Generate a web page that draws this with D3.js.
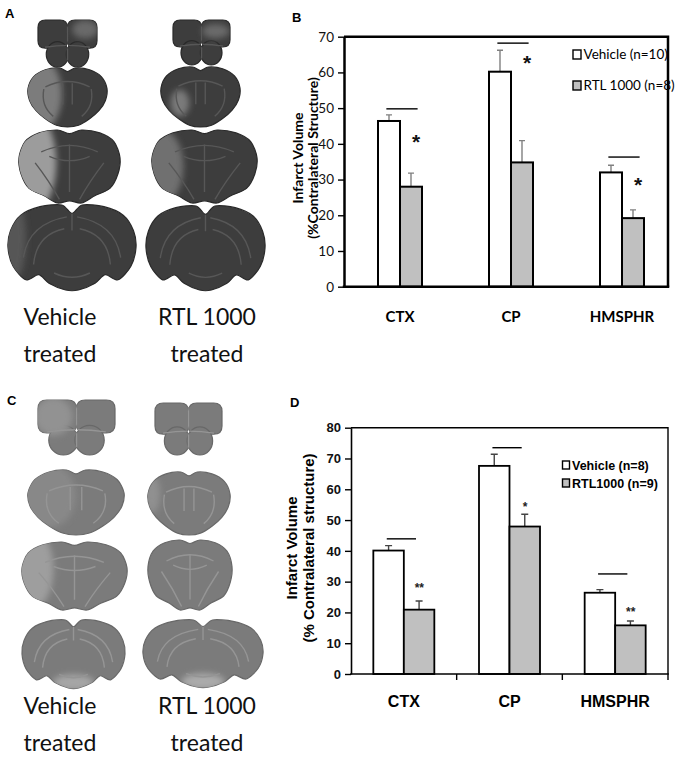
<!DOCTYPE html>
<html>
<head>
<meta charset="utf-8">
<script src="https://cdn.jsdelivr.net/npm/d3@7"></script>
<style>
  body { margin: 0; background: #fff; }
  svg { display: block; }
</style>
</head>
<body>
<script>
// ---- data ----
const categories = ['CTX', 'CP', 'HMSPHR'];

// panel B
const bTicks = [0, 10, 20, 30, 40, 50, 60, 70];
const bVehicle = [46.4, 60.2, 32.0];
const bVehicleErr = [1.7, 6.0, 2.0];
const bRtl = [28.0, 34.8, 19.2];
const bRtlErr = [3.8, 6.1, 2.3];
const bBracket = [49.8, 68.2, 36.3];
const bStars = ['*', '*', '*'];
const bStarAt = [41.9, 63.8, 29.7];
const bLegend = ['Vehicle (n=10)', 'RTL 1000 (n=8)'];

// panel D
const dTicks = [0, 10, 20, 30, 40, 50, 60, 70, 80];
const dVehicle = [40.1, 67.6, 26.4];
const dVehicleErr = [1.6, 3.8, 1.0];
const dRtl = [20.9, 47.9, 15.8];
const dRtlErr = [2.8, 4.0, 1.4];
const dBracket = [43.9, 73.5, 32.5];
const dStars = ['**', '*', '**'];
const dStarAt = [28.8, 55.2, 21.0];
const dLegend = ['Vehicle (n=8)', 'RTL1000 (n=9)'];

// labels under the brain pictures
const colLabels = [['Vehicle', 'treated'], ['RTL 1000', 'treated']];

let svg = d3.select('body').append('svg')
  .attr('width', 680).attr('height', 760)
  .style('background', '#fff');

let defs = svg.append('defs');
defs.append('filter').attr('id', 'soft')
  .attr('x', '-50%').attr('y', '-50%').attr('width', '200%').attr('height', '200%')
  .append('feGaussianBlur').attr('stdDeviation', 3);

// ---------------- brain sections (pictures, drawn as shapes) ----------------
let closed = d3.line().curve(d3.curveCardinalClosed.tension(0.15));

let outlines = {
  mid: [[0.5, 0.06], [0.6, 0.0], [0.78, 0.03], [0.93, 0.15], [1.0, 0.35], [0.98, 0.55], [0.9, 0.72], [0.78, 0.86], [0.64, 0.97], [0.5, 1.0], [0.36, 0.97], [0.22, 0.86], [0.1, 0.72], [0.02, 0.55], [0, 0.35], [0.07, 0.15], [0.22, 0.03], [0.4, 0.0]],
  mid2: [[0.5, 0.05], [0.62, 0.0], [0.8, 0.04], [0.94, 0.16], [1.0, 0.38], [0.98, 0.6], [0.9, 0.8], [0.75, 0.9], [0.62, 1.0], [0.5, 0.97], [0.38, 1.0], [0.25, 0.9], [0.1, 0.8], [0.02, 0.6], [0, 0.38], [0.06, 0.16], [0.2, 0.04], [0.38, 0.0]],
  back: [[0.5, 0.1], [0.58, 0.0], [0.75, 0.02], [0.9, 0.12], [0.98, 0.3], [1.0, 0.5], [0.96, 0.72], [0.86, 0.88], [0.76, 0.82], [0.68, 0.92], [0.55, 1.0], [0.45, 1.0], [0.32, 0.92], [0.24, 0.82], [0.14, 0.88], [0.04, 0.72], [0, 0.5], [0.02, 0.3], [0.1, 0.12], [0.25, 0.02], [0.42, 0.0]]
};

let innerLines = {
  front: ['M0.5,0.02L0.5,0.98', 'M0.12,0.58Q0.5,0.5 0.88,0.58'],
  mid: ['M0.22,0.32Q0.5,0.14 0.78,0.32', 'M0.44,0.26L0.44,0.62', 'M0.56,0.26L0.56,0.62', 'M0.2,0.36Q0.16,0.65 0.32,0.82', 'M0.8,0.36Q0.84,0.65 0.68,0.82'],
  mid2: ['M0.22,0.3Q0.5,0.12 0.78,0.3', 'M0.3,0.36Q0.5,0.48 0.7,0.36', 'M0.5,0.2L0.5,0.85', 'M0.16,0.45Q0.3,0.7 0.4,0.95', 'M0.84,0.45Q0.7,0.7 0.6,0.95'],
  back: ['M0.12,0.62Q0.16,0.22 0.46,0.14', 'M0.88,0.62Q0.84,0.22 0.54,0.14', 'M0.2,0.7Q0.22,0.35 0.44,0.28', 'M0.8,0.7Q0.78,0.35 0.56,0.28', 'M0.5,0.1L0.5,0.3', 'M0.36,0.8Q0.5,0.9 0.64,0.8']
};

function ellipsePath(cx, cy, rx, ry) {
  return `M${cx - rx},${cy}a${rx},${ry} 0 1,0 ${2 * rx},0a${rx},${ry} 0 1,0 ${-2 * rx},0`;
}

function roundRect(x0, y0, x1, y1, r) {
  return `M${x0 + r},${y0}H${x1 - r}Q${x1},${y0} ${x1},${y0 + r}V${y1 - r}Q${x1},${y1} ${x1 - r},${y1}H${x0 + r}Q${x0},${y1} ${x0},${y1 - r}V${y0 + r}Q${x0},${y0} ${x0 + r},${y0}Z`;
}

let clipCount = 0;

function drawSlice(slice, look) {
  let [bx, by, bw, bh, kind, spots] = slice;
  let sx = d3.scaleLinear().range([bx, bx + bw]);
  let sy = d3.scaleLinear().range([by, by + bh]);
  let shapes;
  if (kind == 'front') {
    let r = Math.min(bw, bh) * 0.16;
    shapes = [
      roundRect(sx(0), sy(0), sx(0.5), sy(0.6), r),
      roundRect(sx(0.5), sy(0), sx(1), sy(0.6), r),
      ellipsePath(sx(0.33), sy(0.73), bw * 0.19, bh * 0.27),
      ellipsePath(sx(0.67), sy(0.73), bw * 0.19, bh * 0.27)
    ];
  } else {
    shapes = [closed(outlines[kind].map(p => [sx(p[0]), sy(p[1])]))];
  }
  let id = 'slice' + (clipCount++);
  let clip = defs.append('clipPath').attr('id', id);
  shapes.forEach(d => clip.append('path').attr('d', d));

  let g = svg.append('g');
  shapes.forEach(d => g.append('path').attr('d', d)
    .attr('fill', look.fill).attr('stroke', look.edge).attr('stroke-width', 1.2));

  let inner = g.append('g').attr('clip-path', `url(#${id})`);
  spots.forEach(s => inner.append('ellipse')
    .attr('cx', sx(s[0])).attr('cy', sy(s[1]))
    .attr('rx', bw * s[2]).attr('ry', bh * s[3])
    .attr('fill', s[4]).attr('filter', 'url(#soft)'));

  let t = `translate(${bx},${by}) scale(${bw},${bh})`;
  innerLines[kind].forEach(d => inner.append('path').attr('d', d)
    .attr('transform', t).attr('fill', 'none')
    .attr('stroke', look.line).attr('stroke-width', 1.4)
    .attr('vector-effect', 'non-scaling-stroke'));
}

let aLook = {fill: '#3d3d3d', edge: '#2a2a2a', line: '#575757'};
let cLook = {fill: '#7b7b7b', edge: '#686868', line: '#959595'};

let aSlices = [
  [38, 20, 59, 47, 'front', [[0.8, 0.2, 0.22, 0.2, '#696969']]],
  [28, 68, 79, 59, 'mid', [[0.15, 0.45, 0.28, 0.62, '#7c7c7c']]],
  [19, 130, 101, 73, 'mid2', [[0.1, 0.45, 0.27, 0.72, '#9c9c9c']]],
  [8, 205, 128, 85, 'back', [[0.04, 0.4, 0.1, 0.5, '#575757']]],
  [173, 20, 57, 45, 'front', [[0.75, 0.25, 0.24, 0.16, '#6a6a6a']]],
  [161, 67, 79, 60, 'mid', [[0.24, 0.6, 0.12, 0.22, '#7a7a7a']]],
  [152, 130, 105, 73, 'mid2', [[0.1, 0.5, 0.2, 0.5, '#707070']]],
  [146, 206, 119, 84, 'back', []]
];

let cSlices = [
  [38, 400, 77, 55, 'front', [[0.2, 0.3, 0.25, 0.35, '#929292']]],
  [28, 470, 96, 65, 'mid', [[0.2, 0.4, 0.3, 0.5, '#888888']]],
  [22, 542, 105, 68, 'mid2', [[0.08, 0.4, 0.22, 0.6, '#9e9e9e']]],
  [22, 620, 103, 68, 'back', [[0.5, 0.92, 0.2, 0.12, '#a6a6a6']]],
  [155, 403, 67, 52, 'front', []],
  [148, 472, 82, 63, 'mid', [[0.05, 0.35, 0.1, 0.3, '#909090']]],
  [148, 540, 84, 70, 'mid2', []],
  [143, 620, 120, 67, 'back', [[0.5, 0.92, 0.18, 0.12, '#ababab']]]
];

aSlices.forEach(s => drawSlice(s, aLook));
cSlices.forEach(s => drawSlice(s, cLook));

function columnLabels(baseline) {
  colLabels.forEach((lines, i) => {
    lines.forEach((txt, j) => {
      svg.append('text')
        .attr('x', [60, 207][i]).attr('y', baseline + j * 37)
        .attr('text-anchor', 'middle')
        .style('font-family', 'Lato, sans-serif').style('font-size', '23px')
        .attr('fill', '#111')
        .text(txt);
    });
  });
}
columnLabels(325);
columnLabels(714);

// panel letters
[['A', 5, 18], ['B', 292, 22], ['C', 7, 405], ['D', 290, 407]].forEach(l => {
  svg.append('text').attr('x', l[1]).attr('y', l[2])
    .style('font-family', '"Liberation Sans", Arial, sans-serif')
    .style('font-weight', 'bold').style('font-size', '13px')
    .text(l[0]);
});

// ---------------- bar charts ----------------
function barChart(p) {
  let y = d3.scaleLinear().domain([0, d3.max(p.ticks)]).range([p.bottom, p.top]);
  let x = d3.scaleBand().domain(categories).range(p.band);
  let g = svg.append('g');

  let rows = categories.map((c, i) => [
    {cat: c, s: 0, v: p.vehicle[i], e: p.vehicleErr[i]},
    {cat: c, s: 1, v: p.rtl[i], e: p.rtlErr[i]}
  ]).flat();
  let mid = c => x(c) + x.bandwidth() / 2;
  let barX = d => mid(d.cat) + (d.s - 1) * p.barW;

  // upper error bars
  g.selectAll('.err').data(rows).join('path')
    .attr('d', d => {
      let cx = barX(d) + p.barW / 2, y1 = y(d.v + d.e);
      return `M${cx},${y(d.v)}V${y1}M${cx - p.cap},${y1}H${cx + p.cap}`;
    })
    .attr('fill', 'none').attr('stroke', p.errColor).attr('stroke-width', 1.4);

  g.selectAll('.bar').data(rows).join('rect')
    .attr('x', barX).attr('width', p.barW)
    .attr('y', d => y(d.v)).attr('height', d => y(0) - y(d.v))
    .attr('fill', d => d.s ? '#c0c0c0' : '#fff')
    .attr('stroke', '#000').attr('stroke-width', p.barStroke);

  // frame: top and right
  g.append('path')
    .attr('d', `M${p.left},${y(d3.max(p.ticks))}H${p.right}V${y(0)}`)
    .attr('fill', 'none').attr('stroke', '#000').attr('stroke-width', p.frameW);

  // y axis
  let ax = g.append('g').attr('transform', `translate(${p.left},0)`)
    .call(d3.axisLeft(y).tickValues(p.ticks).tickSize(6).tickSizeOuter(0).tickPadding(p.pad));
  ax.select('.domain').attr('stroke-width', p.axisW);
  ax.selectAll('.tick line').attr('stroke-width', 1.4);
  ax.selectAll('.tick text')
    .style('font-family', p.font).style('font-size', p.tickSize + 'px')
    .style('font-weight', p.tickWeight).attr('fill', '#111');

  // x axis line
  g.append('line')
    .attr('x1', p.left).attr('x2', p.right).attr('y1', y(0)).attr('y2', y(0))
    .attr('stroke', '#000').attr('stroke-width', p.axisW).attr('stroke-linecap', 'square');
  if (p.xTicks) {
    g.selectAll('.xt').data(categories.map(c => x(c)).slice(1).concat([p.right]))
      .join('line')
      .attr('x1', d => d).attr('x2', d => d)
      .attr('y1', y(0)).attr('y2', y(0) + 6)
      .attr('stroke', '#000').attr('stroke-width', 1.4);
  }

  g.selectAll('.cat').data(categories).join('text')
    .attr('x', mid).attr('y', p.catY)
    .attr('text-anchor', 'middle')
    .style('font-family', p.font).style('font-weight', 'bold')
    .style('font-size', p.catSize + 'px')
    .text(d => d);

  // significance brackets and stars
  g.selectAll('.brk').data(categories).join('line')
    .attr('x1', c => mid(c) + p.brk[0] * p.barW)
    .attr('x2', c => mid(c) + p.brk[1] * p.barW)
    .attr('y1', (c, i) => y(p.bracket[i])).attr('y2', (c, i) => y(p.bracket[i]))
    .attr('stroke', '#000').attr('stroke-width', 1.4);

  g.selectAll('.star').data(categories).join('text')
    .attr('x', c => mid(c) + p.starDx)
    .attr('y', (c, i) => y(p.starAt[i]) + p.starSize * 0.55)
    .attr('text-anchor', 'middle')
    .style('font-family', '"Liberation Sans", Arial, sans-serif').style('font-weight', 'bold')
    .style('font-size', p.starSize + 'px')
    .attr('fill', p.starColor)
    .text((c, i) => p.stars[i]);

  // axis title
  p.title.forEach((txt, i) => {
    g.append('text')
      .attr('transform', `translate(${p.titleX[i]},${p.titleY}) rotate(-90)`)
      .attr('y', p.titleSize * 0.35)
      .attr('text-anchor', 'middle')
      .style('font-family', p.font).style('font-weight', 'bold')
      .style('font-size', p.titleSize + 'px')
      .text(txt);
  });

  // legend
  let lg = g.selectAll('.lg').data(p.legend).join('g')
    .attr('transform', (d, i) => `translate(${p.legX},${p.legY[i]})`);
  lg.append('rect')
    .attr('x', 0).attr('y', -p.sq / 2).attr('width', p.sq - 1).attr('height', p.sq)
    .attr('fill', (d, i) => i ? '#c0c0c0' : '#fff')
    .attr('stroke', '#000').attr('stroke-width', 1.4);
  lg.append('text')
    .attr('x', p.sq + 1.5).attr('y', p.legSize * 0.36)
    .style('font-family', p.font).style('font-weight', p.legWeight)
    .style('font-size', p.legSize + 'px')
    .text(d => d);
}

barChart({
  ticks: bTicks, vehicle: bVehicle, vehicleErr: bVehicleErr, rtl: bRtl, rtlErr: bRtlErr,
  bracket: bBracket, stars: bStars, starAt: bStarAt, legend: bLegend,
  top: 36.7, bottom: 286.7, left: 344, right: 668, band: [344.5, 677.5],
  barW: 22, cap: 3, errColor: '#808080', barStroke: 2, frameW: 2.5, axisW: 2.5,
  pad: 4, font: 'Lato, sans-serif', tickSize: 13.5, tickWeight: 'normal', xTicks: false,
  catY: 322, catSize: 15, brk: [-0.62, 0.8], starDx: 16, starSize: 21, starColor: '#111',
  title: ['Infarct Volume', '(%Contralateral Structure)'], titleX: [298, 313], titleY: 158, titleSize: 14,
  legX: 573, legY: [54.5, 85.5], sq: 9, legSize: 13.5, legWeight: 'normal'
});

barChart({
  ticks: dTicks, vehicle: dVehicle, vehicleErr: dVehicleErr, rtl: dRtl, rtlErr: dRtlErr,
  bracket: dBracket, stars: dStars, starAt: dStarAt, legend: dLegend,
  top: 427.7, bottom: 674, left: 351, right: 668, band: [351, 668],
  barW: 30.5, cap: 3.5, errColor: '#444', barStroke: 1.8, frameW: 1.4, axisW: 1.6,
  pad: 4, font: '"Liberation Sans", Arial, sans-serif', tickSize: 13, tickWeight: 'bold', xTicks: true,
  catY: 707, catSize: 16, brk: [-0.56, 0.4], starDx: 15.5, starSize: 12, starColor: '#222',
  title: ['Infarct Volume', '(% Contralateral structure)'], titleX: [292, 309], titleY: 548, titleSize: 15,
  legX: 562.5, legY: [465, 483], sq: 8, legSize: 12.5, legWeight: 'bold'
});
</script>
</body>
</html>
